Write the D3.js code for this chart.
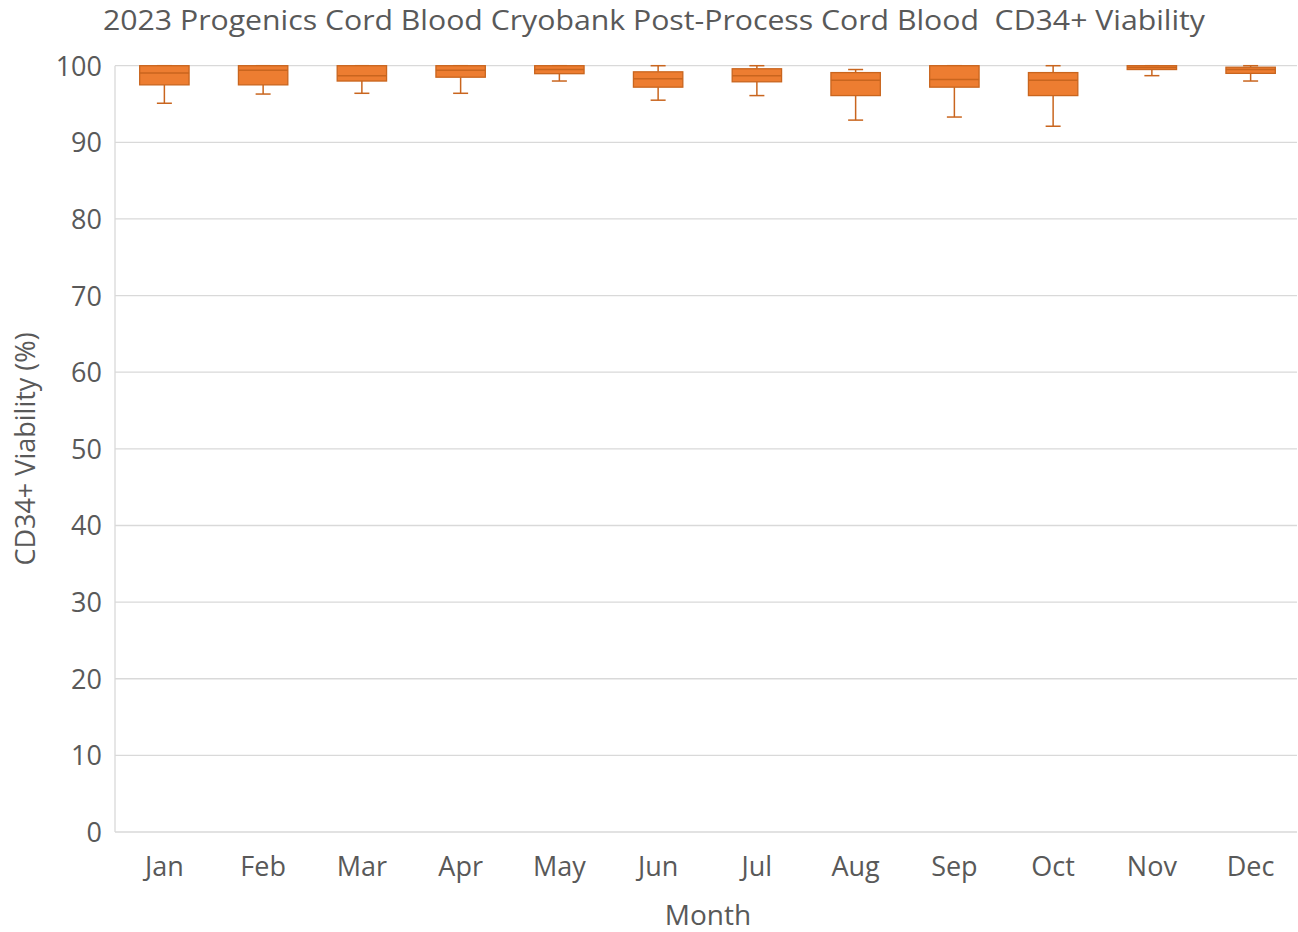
<!DOCTYPE html>
<html><head><meta charset="utf-8">
<script src="https://cdn.jsdelivr.net/npm/d3@7"></script>
<style>body{margin:0;background:#fff;} text{font-family:"Open Sans","Noto Sans",sans-serif;fill:#595959;}</style>
</head><body>
<svg id="chart" width="1298" height="932"></svg>
<script>
const months = ["Jan","Feb","Mar","Apr","May","Jun","Jul","Aug","Sep","Oct","Nov","Dec"];
const whiskerLow  = [95.1, 96.3, 96.4, 96.4, 98.0, 95.5, 96.1, 92.9, 93.3, 92.1, 98.7, 98.0];
const q1          = [97.5, 97.5, 98.0, 98.5, 98.96, 97.2, 97.9, 96.1, 97.2, 96.1, 99.5, 99.0];
const median      = [99.05, 99.4, 98.7, 99.4, 99.5, 98.3, 98.7, 98.1, 98.2, 98.1, 99.75, 99.5];
const q3          = [100, 100, 100, 100, 100, 99.2, 99.6, 99.1, 100, 99.1, 100, 99.8];
const whiskerHigh = [100, 100, 100, 100, 100, 100, 100, 99.5, 100, 100, 100, 100];
const yTicks = [0,10,20,30,40,50,60,70,80,90,100];

const svg = d3.select("#chart");
const m = {left:115, right:1300, top:65.7, bottom:832};
const x = d3.scaleBand().domain(months).range([m.left, m.right]);
const y = d3.scaleLinear().domain([0,100]).range([m.bottom, m.top]);

// gridlines
svg.append("g").selectAll("line").data(yTicks).join("line")
  .attr("x1", m.left).attr("x2", 1297)
  .attr("y1", d=>y(d)).attr("y2", d=>y(d))
  .attr("stroke", "#d9d9d9").attr("stroke-width", 1.3);
// left axis line
svg.append("line").attr("x1", m.left).attr("x2", m.left).attr("y1", m.top).attr("y2", m.bottom)
  .attr("stroke", "#d9d9d9").attr("stroke-width", 1.3);

// y tick labels
const yAxis = d3.axisLeft(y).tickValues(yTicks).tickSize(0).tickPadding(13);
const ga = svg.append("g").attr("transform", `translate(${m.left},0)`).call(yAxis);
ga.select(".domain").remove();
ga.selectAll("text").style("font-size","27px").attr("fill","#595959").attr("dy","0.35em");

// x tick labels
const xAxis = d3.axisBottom(x).tickSize(0).tickPadding(20);
const gx = svg.append("g").attr("transform", `translate(0,${m.bottom})`).call(xAxis);
gx.select(".domain").remove();
gx.selectAll("text").style("font-size","27px").attr("fill","#595959").attr("y",25);

const data = months.map((mo,i)=>({mo, lo:whiskerLow[i], q1:q1[i], med:median[i], q3:q3[i], hi:whiskerHigh[i]}));
const bw = x.bandwidth()*0.5;
const capW = 15;
const stroke = "#C9651E";
const g = svg.append("g").selectAll("g").data(data).join("g")
  .attr("transform", d=>`translate(${x(d.mo)+x.bandwidth()/2},0)`);
// whiskers
g.append("line").attr("x1",0).attr("x2",0).attr("y1",d=>y(d.q1)).attr("y2",d=>y(d.lo)).attr("stroke",stroke).attr("stroke-width",1.5);
g.append("line").attr("x1",-capW/2).attr("x2",capW/2).attr("y1",d=>y(d.lo)).attr("y2",d=>y(d.lo)).attr("stroke",stroke).attr("stroke-width",1.5);
g.append("line").attr("x1",0).attr("x2",0).attr("y1",d=>y(d.q3)).attr("y2",d=>y(d.hi)).attr("stroke",stroke).attr("stroke-width",1.5);
g.append("line").attr("x1",-capW/2).attr("x2",capW/2).attr("y1",d=>y(d.hi)).attr("y2",d=>y(d.hi)).attr("stroke",stroke).attr("stroke-width",1.5);
// box
g.append("rect").attr("x",-bw/2).attr("width",bw)
  .attr("y",d=>y(d.q3)).attr("height",d=>y(d.q1)-y(d.q3))
  .attr("fill","#ED7D31").attr("stroke",stroke).attr("stroke-width",1.3);
g.append("line").attr("x1",-bw/2).attr("x2",bw/2).attr("y1",d=>y(d.med)).attr("y2",d=>y(d.med)).attr("stroke",stroke).attr("stroke-width",1.5);

// title
svg.append("text").attr("x",654).attr("y",30).attr("text-anchor","middle")
  .attr("textLength",1102).attr("lengthAdjust","spacingAndGlyphs")
  .style("white-space","pre")
  .style("font-size","28px").text("2023 Progenics Cord Blood Cryobank Post-Process Cord Blood  CD34+ Viability");
// axis titles
svg.append("text").attr("x",708).attr("y",925).attr("text-anchor","middle").style("font-size","28px").text("Month");
svg.append("text").attr("transform","translate(35,449) rotate(-90)").attr("text-anchor","middle").style("font-size","27px").text("CD34+ Viability (%)");
</script>
</body></html>
